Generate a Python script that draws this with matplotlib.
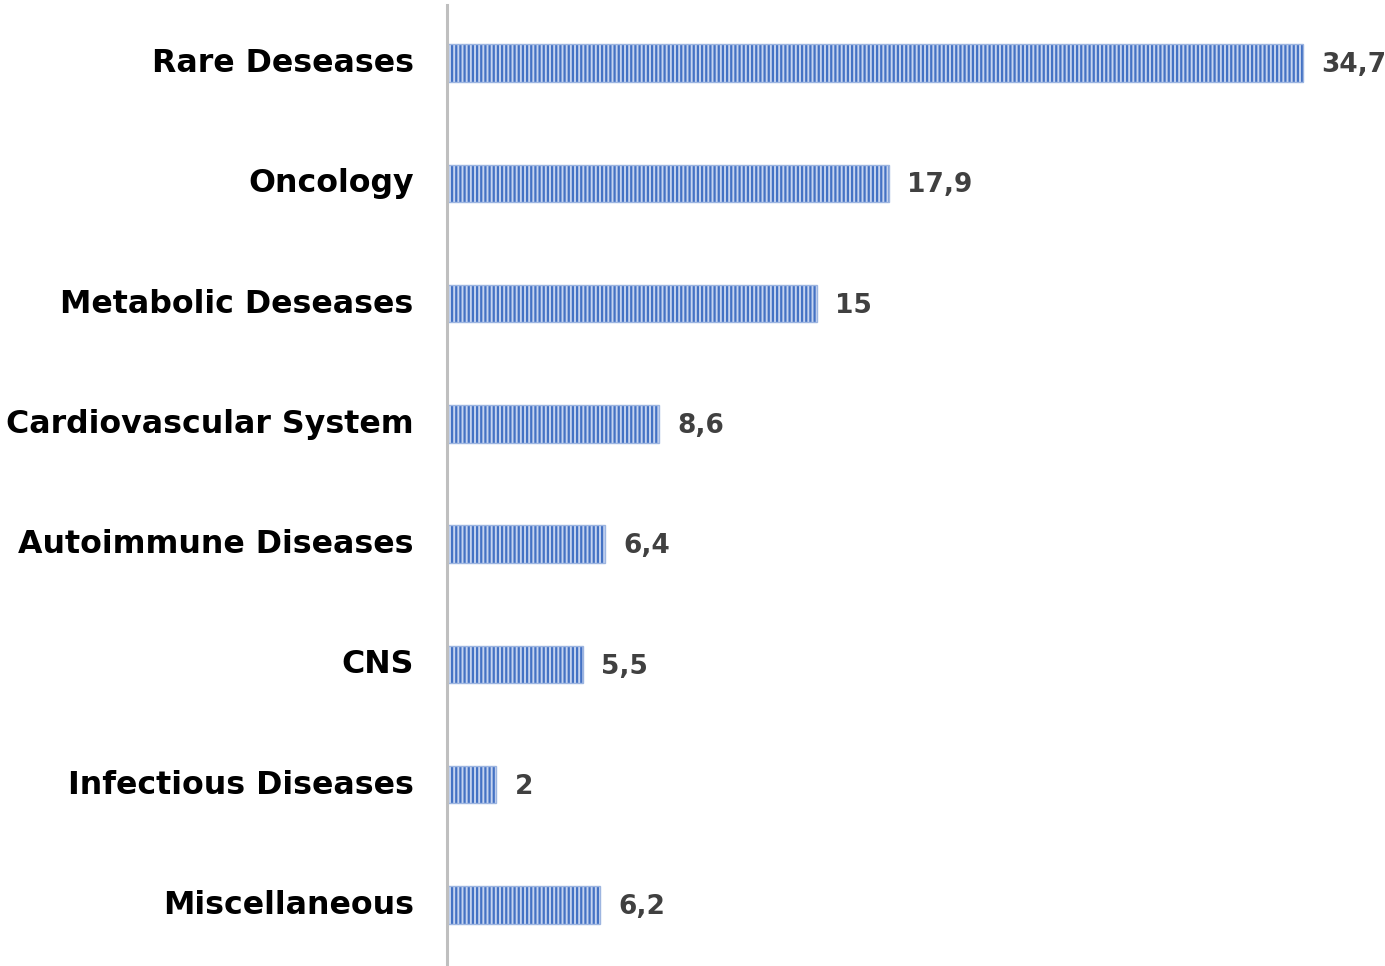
import matplotlib
matplotlib.use("Agg")
import matplotlib.pyplot as plt
from matplotlib.transforms import ScaledTranslation

categories = ["Rare Deseases", "Oncology", "Metabolic Deseases", "Cardiovascular System",
              "Autoimmune Diseases", "CNS", "Infectious Diseases", "Miscellaneous"]
values = [34.7, 17.9, 15.0, 8.6, 6.4, 5.5, 2.0, 6.2]

plt.rcParams["font.family"] = ["DejaVu Sans"]
plt.rcParams["hatch.linewidth"] = 1.6

W, H = 1385, 966
fig = plt.figure(figsize=(W / 100, H / 100), dpi=100)
ax = fig.add_axes([447 / W, 0, 1 - 447 / W, 961 / H])

pos = list(range(len(categories)))
ax.barh(pos, values, height=0.31, color="#C6D4EF", edgecolor="#4472C4",
        linewidth=0, hatch="||||")
ax.barh(pos, values, height=0.31, fill=False, edgecolor="#9DB5E0", linewidth=1.0)

px_per_unit = (1304 - 448) / 34.7
ax.set_xlim(0, (W - 447) / px_per_unit)
ax.set_ylim(7 + (966 - 905) / 120.3, -(63 - 5) / 120.3)

for y, v in zip(pos, values):
    txt = f"{v:g}".replace(".", ",")
    ax.annotate(txt, (v, y), xytext=(13, -1.5), textcoords="offset points",
                ha="left", va="center", fontsize=19, fontweight="bold", color="#404040")

ax.set_yticks(pos)
ax.set_yticklabels(categories, fontsize=22.8, fontweight="bold", color="black")
ax.tick_params(axis="y", length=0, pad=24)
shift = ScaledTranslation(0, 3 / 100, fig.dpi_scale_trans)
for lbl in ax.get_yticklabels():
    lbl.set_transform(lbl.get_transform() + shift)
ax.set_xticks([])
for s in ["top", "right", "bottom"]:
    ax.spines[s].set_visible(False)
ax.spines["left"].set_color("#BFBFBF")
ax.spines["left"].set_linewidth(2.2)

fig.savefig("out.png", dpi=100, facecolor="white")
